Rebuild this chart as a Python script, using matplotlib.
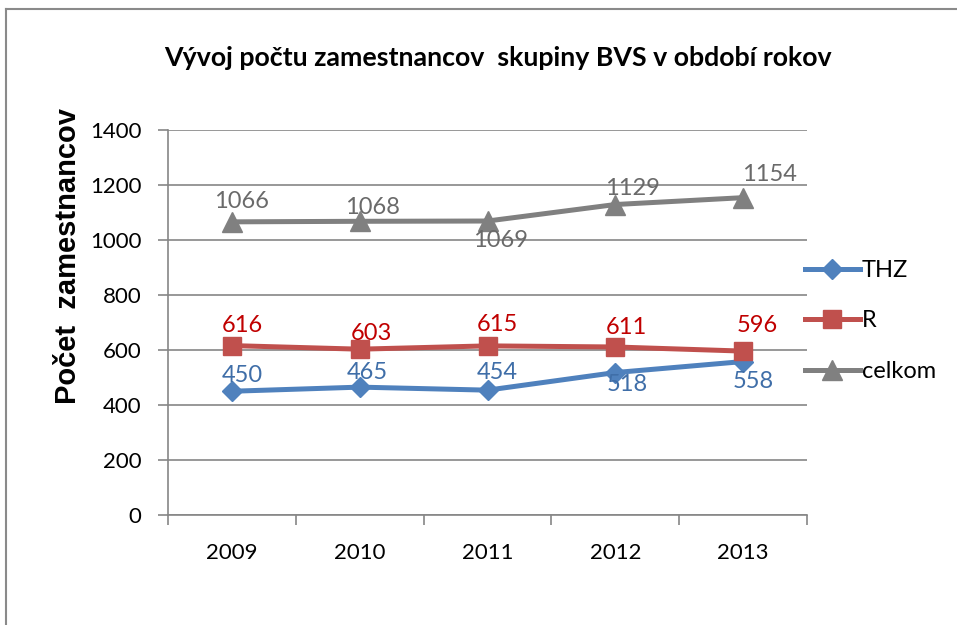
import numpy as np
import matplotlib
matplotlib.use('Agg')
import matplotlib.pyplot as plt
from matplotlib.lines import Line2D

roky = ['2009', '2010', '2011', '2012', '2013']
thz = [450, 465, 454, 518, 558]
r = [616, 603, 615, 611, 596]
celkom = [1066, 1068, 1069, 1129, 1154]

# posun popiskov v pixeloch (dx, dy), kladne dy = nad bodom
posun_thz = [(10, 16), (8, 15), (10, 18), (12, -12), (10, -20)]
posun_r = [(10, 20), (12, 16), (10, 21), (11, 19), (14, 26)]
posun_celkom = [(10, 20), (13, 14), (13, -19), (17, 16), (26, 23)]

plt.rcParams['font.family'] = ['Lato', 'DejaVu Sans']

fig = plt.figure(figsize=(9.57, 6.25), dpi=100)
ax = fig.add_axes([168/957, 1-515/625, (807-168)/957, (515-130)/625])

x = np.arange(len(roky))
gray = '#868686'

def kresli(vals, farba, marker, ms, lfarba, posuny, name):
    ax.plot(x, vals, color=farba, lw=3.6, marker=marker, ms=ms,
            markerfacecolor=farba, markeredgecolor=farba, label=name, zorder=3)
    for xi, v, (dx, dy) in zip(x, vals, posuny):
        ax.annotate(str(v), (xi, v), xytext=(dx*0.72, dy*0.72),
                    textcoords='offset points', ha='center', va='center',
                    fontsize=17, color=lfarba, zorder=4)

kresli(thz, '#4F81BD', 'D', 10, '#3F6EA8', posun_thz, 'THZ')
kresli(r, '#C0504D', 's', 13, '#C00000', posun_r, 'R')
kresli(celkom, '#808080', '^', 14, '#6A6A6A', posun_celkom, 'celkom')

ax.set_xlim(-0.5, 4.5)
ax.set_ylim(0, 1400)
ax.set_yticks(np.arange(0, 1401, 200))
ax.set_xticks(x)
ax.set_xticklabels(roky)
ax.set_xticks(np.arange(-0.5, 4.6, 1), minor=True)
ax.tick_params(axis='x', which='major', length=0, pad=20, labelsize=16)
ax.tick_params(axis='x', which='minor', length=7, color=gray, width=1.2, direction='out')
ax.tick_params(axis='y', length=7, color=gray, width=1.2, pad=12, labelsize=16)
ax.grid(axis='y', color=gray, lw=1.2)
ax.set_axisbelow(True)
for s in ['top', 'right']:
    ax.spines[s].set_visible(False)
for s in ['left', 'bottom']:
    ax.spines[s].set_color(gray)
    ax.spines[s].set_linewidth(1.2)

fig.text(68/957, 1-256/625, 'Počet  zamestnancov', rotation=90, ha='center', va='center',
         fontsize=21, fontweight='bold', family=['Liberation Sans', 'DejaVu Sans'])

fig.text(498/957, 1-58/625, 'Vývoj počtu zamestnancov  skupiny BVS v období rokov',
         ha='center', va='center', fontsize=19.3, fontweight='bold')

leg = ax.legend(loc='center left', bbox_to_anchor=(784/957, 1-321/625),
                bbox_transform=fig.transFigure, frameon=False, fontsize=17,
                handlelength=2.3, labelspacing=1.25, handletextpad=0.1)

# ramik grafu
fig.add_artist(Line2D([6/957, 6/957], [0, 1-9/625], color='#8a8a8a', lw=1.5,
                      transform=fig.transFigure))
fig.add_artist(Line2D([6/957, 1], [1-9/625, 1-9/625], color='#8a8a8a', lw=1.5,
                      transform=fig.transFigure))

fig.savefig('out.png', dpi=100)
